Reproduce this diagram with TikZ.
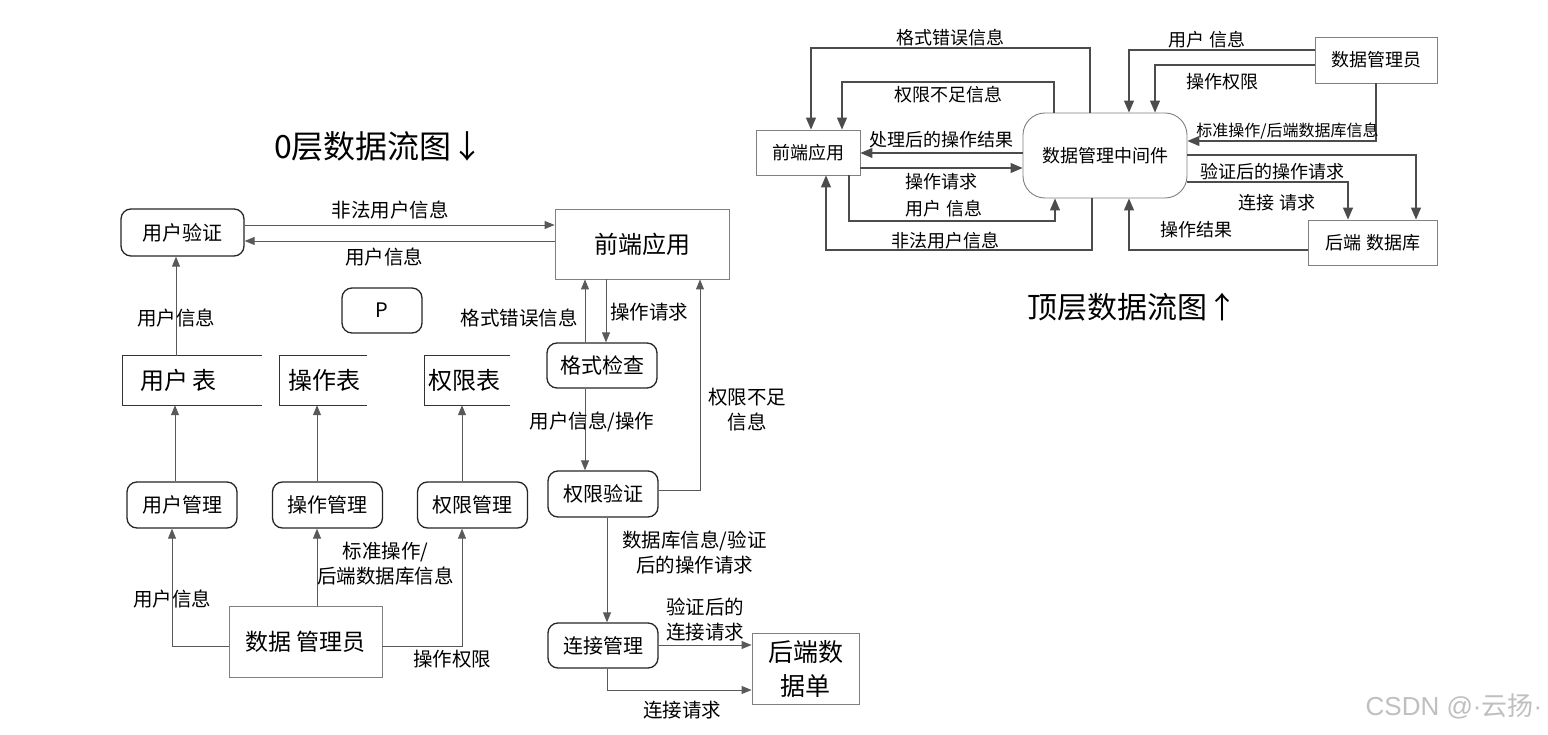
\documentclass[tikz,border=0pt]{standalone}
\usepackage{fontspec}
\setmainfont{Noto Sans CJK SC}
\newfontfamily\wmfont{Liberation Sans}
\usetikzlibrary{arrows.meta}
\newcommand{\gap}{\hspace{5pt}}
\tikzset{
  proc/.style={draw=black!85,line width=1.3pt,rounded corners=10pt,inner sep=0pt,
    minimum width=110pt,minimum height=46pt,font=\fontsize{20}{24}\selectfont},
  ent/.style={draw=black!50,line width=0.9pt,inner sep=0pt},
  store/.style={inner ysep=0pt,align=left,minimum height=49pt,font=\fontsize{24}{28}\selectfont},
  flow/.style={draw=black!65,line width=0.9pt,-{Triangle[length=10pt,width=8pt]}},
  lbl/.style={inner sep=0pt,font=\fontsize{19.5}{25}\selectfont},
  rbox/.style={ent,font=\fontsize{18}{22}\selectfont},
  rflow/.style={draw=black!70,line width=1.1pt,-{Triangle[length=12pt,width=10pt]}},
  rlbl/.style={inner sep=0pt,font=\fontsize{18}{22}\selectfont},
}
\begin{document}
\begin{tikzpicture}[x=1pt,y=-1pt]
  \path[fill=white,use as bounding box] (0,0) rectangle (1548,735);

  \node[inner sep=0pt,font=\fontsize{32}{36}\selectfont] (t0) at (379,146) {0层数据流图↓};
  \node[inner sep=0pt,font=\fontsize{30}{34}\selectfont] (t1) at (1132,307) {顶层数据流图↑};

  \node[proc,minimum width=123pt,minimum height=47pt] (uv) at (182.5,232.5) {用户验证};
  \node[ent,minimum width=174pt,minimum height=70pt,font=\fontsize{24}{28}\selectfont] (fe) at (642,244) {前端应用};
  \node[proc,minimum width=80pt,minimum height=45pt] (p) at (382,310.5) {P};
  \node[store,inner xsep=17pt,text width=105pt] (ut) at (192.5,380.5) {用户\gap 表};
  \node[store,inner xsep=8pt,text width=71pt] (ot) at (323.5,380.5) {操作表};
  \node[store,inner xsep=3pt,text width=79pt] (pt) at (467.5,380.5) {权限表};
  \node[proc] (um) at (182,505) {用户管理};
  \node[proc] (om) at (327.5,505) {操作管理};
  \node[proc] (pm) at (472.5,505) {权限管理};
  \node[ent,minimum width=153pt,minimum height=71pt,font=\fontsize{23}{27}\selectfont] (dm) at (305.5,641.5) {数据\gap 管理员};
  \node[proc,minimum height=45pt,font=\fontsize{21}{25}\selectfont] (fc) at (602,365.5) {格式检查};
  \node[proc] (pv) at (603,494) {权限验证};
  \node[proc,minimum height=45pt] (cm) at (603,645.5) {连接管理};
  \node[ent,minimum width=107pt,minimum height=71pt,align=center,font=\fontsize{25}{34}\selectfont] (bd) at (805.5,668.5) {后端数\\据单};

  \foreach \s in {ut,ot,pt}
    \draw[line width=1.2pt,black!80] (\s.north east) -- (\s.north west) -- (\s.south west) -- (\s.south east);

  \begin{scope}[flow]
    \draw (uv.east |- 0,225) -- node[lbl,above=5pt,pos=0.47] (l1) {非法用户信息} (fe.west |- 0,225);
    \draw (fe.west |- 0,241) -- node[lbl,below=6pt,pos=0.55] (l2) {用户信息} (uv.east |- 0,241);
    \draw (ut.north -| 176,0) -- node[lbl,pos=0.38] (l3) {用户信息} (uv.south -| 176,0);
    \draw (um.north -| 175,0) -- (ut.south -| 175,0);
    \draw (om.north -| 317,0) -- (ot.south -| 317,0);
    \draw (pm.north -| 462,0) -- (pt.south -| 462,0);
    \draw (dm.west |- 0,646) -| node[lbl,pos=0.7] (l4) {用户信息} (um.south -| 172,0);
    \draw (dm.north -| 317,0) -- node[lbl,right,align=center,pos=0.54] (l5) {标准操作/\\后端数据库信息} (om.south -| 317,0);
    \draw (dm.east |- 0,646) -| node[lbl,below=4pt,pos=0.44] (l6) {操作权限} (pm.south -| 462,0);
    \draw (fc.north -| 585,0) -- node[lbl,left=7pt,pos=0.39] (l7) {格式错误信息} (fe.south -| 585,0);
    \draw (fe.south -| 606,0) -- node[lbl,right=4pt,pos=0.52] (l8) {操作请求} (fc.north -| 606,0);
    \draw (fc.south -| 585,0) -- node[lbl,xshift=7pt,pos=0.41] (l9) {用户信息/操作} (pv.north -| 585,0);
    \draw (pv.east |- 0,490) -| node[lbl,right=8pt,align=center,pos=0.69] (l10) {权限不足\\信息} (fe.south -| 700,0);
    \draw (pv.south -| 607,0) -- node[lbl,right=15pt,align=center,pos=0.33] (l11) {数据库信息/验证\\后的操作请求} (cm.north -| 607,0);
    \draw (cm.east |- 0,645) -- node[lbl,above=3pt,align=center] (l12) {验证后的\\连接请求} (bd.west |- 0,645);
    \draw (cm.south -| 607,0) |- node[lbl,below=11pt,pos=0.76] (l13) {连接请求} (bd.west |- 0,690);
  \end{scope}

  \node[rbox,minimum width=104pt,minimum height=45pt] (rfe) at (808,152.5) {前端应用};
  \node[rbox,rounded corners=22pt,minimum width=164pt,minimum height=85pt] (mid) at (1105,155.5) {数据管理中间件};
  \node[rbox,minimum width=122pt,minimum height=46pt] (rdm) at (1376,60) {数据管理员};
  \node[rbox,minimum width=129pt,minimum height=45pt] (rdb) at (1372.5,242.5) {后端\gap 数据库};

  \begin{scope}[rflow]
    \draw (mid.north -| 1090,0) -- (1090,48) -- node[rlbl,above=1pt] (r1) {格式错误信息} (811,48) -- (rfe.north -| 811,0);
    \draw (mid.north -| 1054,0) -- (1054,82) -- node[rlbl,below=4pt] (r2) {权限不足信息} (842,82) -- (rfe.north -| 842,0);
    \draw (mid.west |- 0,153) -- node[rlbl,above=4pt] (r3) {处理后的操作结果} (rfe.east |- 0,153);
    \draw (rfe.east |- 0,168) -- node[rlbl,below=5pt] (r4) {操作请求} (mid.west |- 0,168);
    \draw (rfe.south -| 849,0) -- (849,221) -- node[rlbl,above=3pt,pos=0.46] (r5) {用户\gap 信息} (1055,221) -- (mid.south -| 1055,0);
    \draw (mid.south -| 1092,0) -- (1092,250) -- node[rlbl,above=0pt,pos=0.55] (r6) {非法用户信息} (826,250) -- (rfe.south -| 826,0);
    \draw (rdm.west |- 0,50) -| node[rlbl,above=1pt,pos=0.29] (r7) {用户\gap 信息} (mid.north -| 1129,0);
    \draw (rdm.west |- 0,65) -| node[rlbl,below=8pt,pos=0.29] (r8) {操作权限} (mid.north -| 1155,0);
    \draw (rdm.south -| 1376,0) |- node[rlbl,above=1pt,pos=0.735,font=\fontsize{16}{19}\selectfont] (r9) {标准操作/后端数据库信息} (mid.east |- 0,141);
    \draw (mid.east |- 0,155) -| node[rlbl,below=8pt,pos=0.185] (r10) {验证后的操作请求} (rdb.north -| 1416,0);
    \draw (mid.east |- 0,182) -| node[rlbl,below=12pt,pos=0.28] (r11) {连接\gap 请求} (rdb.north -| 1348,0);
    \draw (rdb.west |- 0,250) -| node[rlbl,above=11pt,pos=0.31] (r12) {操作结果} (mid.south -| 1129,0);
  \end{scope}

  \node[inner sep=0pt,text=black!25,font=\fontsize{26}{30}\selectfont] (wm) at (1454,706) {{\wmfont CSDN @·}云扬{\wmfont ·}};
\end{tikzpicture}
\end{document}
